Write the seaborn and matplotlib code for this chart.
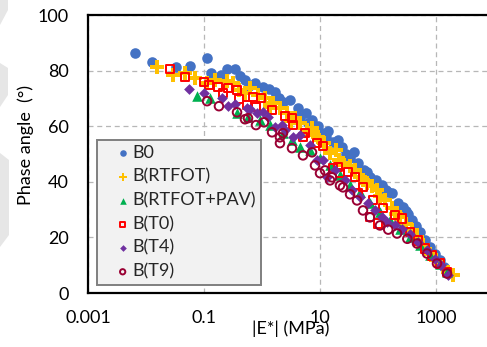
import matplotlib
matplotlib.use("Agg")
import matplotlib.pyplot as plt
import seaborn as sns
import pandas as pd
from matplotlib.patches import Polygon
from matplotlib.collections import PathCollection
from matplotlib.legend_handler import HandlerPathCollection

# ---------------- data ----------------
b0_E = [0.0065, 0.0127, 0.033, 0.057, 0.113, 0.132, 0.249, 0.342, 0.418, 0.509,
        0.757, 1.04, 1.32, 1.68, 2.30, 3.04, 4.18, 4.52, 5.74, 7.28,
        9.24, 10.8, 13.7, 16.8, 20.4, 23.9, 32.9, 38.6, 45.2, 57.4,
        72.8, 92.4, 117, 149, 174, 221, 270, 329, 386, 452,
        530, 646, 788, 961, 1172, 1374, 1610,
        0.20, 0.60, 2.0, 6.2, 12.5, 28.0, 64.0, 135, 300]
b0_P = [86.3, 83.1, 81.3, 81.6, 84.5, 79.1, 80.5, 80.5, 78.0, 76.6,
        75.5, 74.1, 73.3, 72.3, 68.6, 69.4, 66.5, 63.2, 64.7, 62.2,
        60.0, 57.5, 58.2, 54.2, 55.0, 52.4, 48.5, 50.6, 46.7, 44.1,
        41.9, 40.5, 38.7, 36.2, 35.9, 32.3, 30.8, 28.3, 26.1, 24.0,
        21.8, 18.9, 16.4, 13.9, 11.7, 9.5, 7.4,
        78.5, 74.5, 70.0, 61.0, 56.0, 50.0, 43.5, 37.0, 29.5]

rtfot_E = [0.0155, 0.0292, 0.047, 0.070, 0.113, 0.155, 0.249, 0.316, 0.509, 0.621,
           0.853, 1.13, 1.55, 2.04, 2.70, 3.71, 4.52, 5.97, 7.28, 9.24,
           11.7, 14.9, 18.9, 24.9, 32.9, 40.1, 48.9, 64.6, 78.8, 96.1,
           132, 174, 240, 304, 386, 470, 597, 788, 1000, 1321,
           1610, 1964,
           0.40, 1.35, 3.2, 8.0, 21.0, 56.0, 110, 205]
rtfot_P = [81.3, 78.4, 79.1, 77.3, 75.5, 76.6, 76.2, 75.5, 71.9, 73.7,
           71.2, 70.1, 68.3, 66.5, 64.7, 62.9, 61.1, 58.6, 59.3, 56.0,
           53.9, 50.3, 51.4, 46.7, 45.6, 44.1, 41.6, 39.5, 38.4, 36.9,
           33.3, 30.5, 27.2, 24.7, 22.5, 20.0, 17.1, 14.2, 11.7, 9.2,
           7.4, 6.3,
           73.0, 67.0, 62.0, 57.0, 48.0, 40.5, 35.0, 28.5]

pav_E = [0.0757, 0.127, 0.371, 0.574, 0.92, 1.37, 2.30, 3.29, 4.52, 6.72,
         10.0, 14.9, 22.1, 32.9, 48.9, 72.8, 108, 161, 240, 356,
         530, 788, 1172, 1548]
pav_P = [70.8, 70.1, 64.7, 63.2, 62.2, 60.4, 57.5, 55.0, 52.4, 51.4,
         48.5, 45.9, 42.3, 38.7, 36.2, 32.3, 29.0, 26.1, 23.2, 20.0,
         17.1, 13.5, 10.6, 7.4]

t0_E = [0.0259, 0.047, 0.100, 0.122, 0.174, 0.213, 0.259, 0.371, 0.401, 0.551,
        0.700, 0.961, 0.788, 1.49, 2.49, 3.29, 3.42, 5.09, 5.51, 8.88,
        11.3, 16.8, 20.4, 22.1, 30.4, 40.1, 45.2, 55.1, 82.0, 122,
        72.8, 100, 196, 259, 356, 489, 646, 853, 1172, 1548]
t0_P = [80.5, 77.7, 75.9, 74.8, 74.1, 71.9, 73.7, 73.0, 69.7, 67.6,
        70.5, 70.1, 66.8, 65.8, 63.6, 62.9, 60.4, 56.0, 57.5, 53.9,
        52.8, 44.9, 45.2, 43.1, 43.4, 41.6, 35.9, 38.0, 33.3, 30.5,
        27.2, 25.0, 27.9, 26.8, 21.8, 18.9, 16.0, 13.5, 10.6, 7.7]

t4_E = [0.0551, 0.100, 0.204, 0.259, 0.342, 0.551, 0.621, 0.820, 1.04, 1.27,
        1.68, 2.21, 2.49, 3.42, 4.52, 6.72, 8.88, 11.3, 13.2, 18.1,
        27.0, 35.6, 48.9, 67.2, 88.8, 143, 196, 356, 489, 700,
        961, 1220, 1610,
        260, 115]
t4_P = [73.3, 71.9, 70.1, 67.2, 67.9, 66.5, 66.1, 64.7, 65.0, 63.2,
        59.6, 60.4, 58.6, 56.0, 56.8, 53.2, 47.7, 47.7, 41.6, 44.1,
        40.5, 36.9, 34.4, 32.3, 29.7, 25.4, 24.3, 21.4, 18.2, 15.3,
        12.4, 9.9, 6.3,
        23.0, 27.5]

t9_E = [0.113, 0.181, 0.371, 0.509, 0.574, 0.788, 1.08, 1.49, 2.04, 2.30,
        2.04, 3.29, 5.09, 7.28, 8.20, 10.0, 12.2, 14.9, 16.1, 22.1,
        24.9, 43.5, 55.1, 72.8, 108, 213, 470, 700, 1040, 1548,
        33.0, 150, 320]
t9_P = [69.0, 67.2, 65.0, 62.5, 62.9, 60.4, 61.4, 57.8, 56.0, 57.5,
        53.9, 52.1, 49.5, 50.6, 45.9, 43.1, 44.1, 40.5, 41.6, 38.7,
        38.0, 33.3, 29.7, 27.2, 24.3, 21.4, 17.8, 14.2, 10.6, 7.0,
        35.5, 22.8, 19.5]

series_names = ["B0", "B(RTFOT)", "B(RTFOT+PAV)", "B(T0)", "B(T4)", "B(T9)"]
x_ticks = [0.001, 0.1, 10, 1000]
x_tick_labels = ["0.001", "0.1", "10", "1000"]
y_ticks = [0, 20, 40, 60, 80, 100]

# ---------------- style ----------------
sns.set_theme(style="white")
plt.rcParams["font.family"] = ["Lato", "DejaVu Sans"]

fig = plt.figure(figsize=(4.87, 3.47), dpi=100)
W, H = 487, 347
ax = fig.add_axes([88 / W, (H - 293) / H, 406 / W, 278 / H])

# faint grey shapes at the left edge
for pts in ([(0, 0), (8, 0), (8, 10), (0, 25)],
            [(0, 63), (8, 68), (8, 95), (0, 107)],
            [(0, 153), (9, 160), (9, 235), (0, 247)]):
    fig.patches.append(Polygon([(x / W, 1 - y / H) for x, y in pts], closed=True,
                               transform=fig.transFigure, facecolor="#e6e6e6",
                               edgecolor="none", zorder=0))

styles = [
    dict(E=b0_E, P=b0_P, marker="o", color="#4472C4", s=58, filled=True),
    dict(E=rtfot_E, P=rtfot_P, marker="P", color="#FFC000", s=95, filled=True),
    dict(E=pav_E, P=pav_P, marker="^", color="#00B050", s=58, filled=True),
    dict(E=t0_E, P=t0_P, marker="s", color="#FF0000", s=34, filled=False),
    dict(E=t4_E, P=t4_P, marker="D", color="#7030A0", s=30, filled=True),
    dict(E=t9_E, P=t9_P, marker="o", color="#990033", s=38, filled=False),
]

for name, st in zip(series_names, styles):
    df = pd.DataFrame({"E": st["E"], "phase": st["P"]})
    if st["filled"]:
        sns.scatterplot(data=df, x="E", y="phase", ax=ax, marker=st["marker"],
                        color=st["color"], s=st["s"], linewidth=0, label=name,
                        zorder=3)
    else:
        sns.scatterplot(data=df, x="E", y="phase", ax=ax, marker=st["marker"],
                        facecolor="none", edgecolor=st["color"], s=st["s"],
                        linewidth=1.4, label=name, zorder=3)

ax.set_xscale("log")
ax.set_xlim(0.001, 10000)
ax.set_ylim(0, 100)
ax.set_xticks(x_ticks)
ax.set_xticklabels(x_tick_labels)
ax.minorticks_off()
ax.set_yticks(y_ticks)
ax.tick_params(axis="both", length=0, labelsize=13, colors="black")
ax.tick_params(axis="y", pad=14)
ax.tick_params(axis="x", pad=12)

ax.grid(True, which="major", color="#b7b7b7", linestyle=(0, (4, 3)), linewidth=0.9)
ax.set_axisbelow(True)
for sp in ["left", "bottom", "top", "right"]:
    ax.spines[sp].set_visible(True)
    ax.spines[sp].set_color("black")
    ax.spines[sp].set_linewidth(1.6)

ax.set_xlabel("|E*| (MPa)", fontsize=13, color="black")
ax.xaxis.set_label_coords(0.5, -0.13)
ax.xaxis.label.set_va("center")
ax.set_ylabel("Phase angle  (°)", fontsize=13, color="black")
ax.yaxis.set_label_coords(-0.153, 0.532)
ax.yaxis.label.set_va("center")

handles, labels = ax.get_legend_handles_labels()
leg = ax.legend(handles, labels, loc="lower left", bbox_to_anchor=(0.022, 0.029),
                borderaxespad=0, fontsize=13, frameon=True, fancybox=False,
                framealpha=1, facecolor="#f2f2f2", edgecolor="#7f7f7f",
                borderpad=0.3, handlelength=1.55, handletextpad=0.1,
                labelspacing=0.42, markerscale=0.62,
                handler_map={PathCollection: HandlerPathCollection(xpad=0.7)})
leg.get_frame().set_linewidth(1.4)
leg.set_zorder(5)

fig.savefig("out.png", dpi=100)
